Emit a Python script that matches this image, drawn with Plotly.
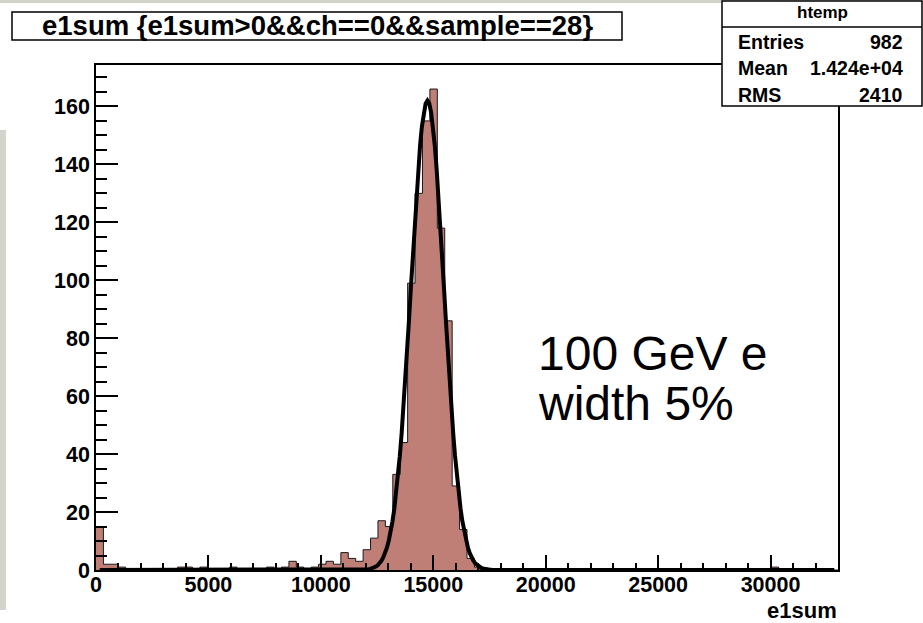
import numpy as np
import plotly.graph_objects as go

# ---------------- data ----------------
bin_width = 330
x_min, x_max = 0, 33000
# 100 bins of e1sum (counts per bin)
counts = [
    15, 2, 2, 1, 0, 0, 0, 0, 0, 0,
    0, 1, 1, 0, 1, 0, 0, 0, 1, 0,
    0, 0, 0, 1, 0, 1, 3, 1, 0, 1,
    2, 3, 2, 6, 4, 3, 7, 11, 17, 15,
    33, 44, 99, 130, 155, 166, 118, 86, 29, 14,
    4, 1, 0, 0, 0, 0, 0, 0, 0, 0,
    0, 0, 0, 0, 0, 0, 0, 0, 0, 0,
    0, 0, 0, 0, 0, 0, 0, 0, 0, 0,
    0, 0, 0, 0, 0, 0, 0, 0, 0, 0,
    0, 1, 0, 0, 0, 0, 0, 0, 0, 0,
]
# gaussian fit parameters
fit_const = 162.0
fit_mean = 14740.0
fit_sigma = 730.0
fit_range = (165, 32835)

x_ticks = [0, 5000, 10000, 15000, 20000, 25000, 30000]
y_ticks = [0, 20, 40, 60, 80, 100, 120, 140, 160]

title_text = "e1sum {e1sum>0&&ch==0&&sample==28}"
stats_name = "htemp"
stats_rows = [("Entries", "982"), ("Mean", "1.424e+04"), ("RMS", "2410")]
note_lines = ["100 GeV e", "width 5%"]
x_title = "e1sum"

# ---------------- geometry ----------------
W, H = 923, 623
L, R, T, B = 96, 85, 65, 53
pw = W - L - R
ph = H - T - B


def px(x):
    return (x - L) / pw


def py(y):
    return (H - B - y) / ph


edges = [x_min + i * bin_width for i in range(len(counts) + 1)]
step_y = counts + [counts[-1]]

fx = np.linspace(fit_range[0], fit_range[1], 400)
fy = fit_const * np.exp(-0.5 * ((fx - fit_mean) / fit_sigma) ** 2)

fig = go.Figure()
fig.add_trace(go.Scatter(
    x=edges, y=step_y, mode="lines", line_shape="hv",
    fill="tozeroy", fillcolor="#bf7e76",
    line=dict(color="#1a1a1a", width=1), hoverinfo="skip", showlegend=False,
))
fig.add_trace(go.Scatter(
    x=fx, y=fy, mode="lines", line=dict(color="black", width=4),
    hoverinfo="skip", showlegend=False,
))

tickfont = dict(family="Liberation Sans", size=21.5, color="black", weight="bold")

fig.update_layout(
    width=W, height=H,
    margin=dict(l=L, r=R, t=T, b=B, pad=0),
    paper_bgcolor="white", plot_bgcolor="white",
    xaxis=dict(
        range=[x_min, x_max], tickvals=x_ticks, ticktext=[str(v) for v in x_ticks],
        ticks="inside", ticklen=15, tickwidth=1.5, tickcolor="black",
        showline=True, linecolor="black", linewidth=1.5, mirror=True,
        showgrid=False, zeroline=False, tickfont=tickfont, ticklabelstandoff=-6,
        minor=dict(dtick=1000, ticks="inside", ticklen=7, tickwidth=1.5,
                   tickcolor="black", showgrid=False),
    ),
    yaxis=dict(
        range=[0, 174.3], tickvals=y_ticks, ticktext=[str(v) for v in y_ticks],
        ticks="inside", ticklen=22, tickwidth=1.5, tickcolor="black",
        showline=True, linecolor="black", linewidth=1.5, mirror=True,
        showgrid=False, zeroline=False, tickfont=tickfont,
        minor=dict(dtick=5, ticks="inside", ticklen=11, tickwidth=1.5,
                   tickcolor="black", showgrid=False),
    ),
)

shapes = []
# slide decorations (grey strips)
shapes.append(dict(type="rect", xref="paper", yref="paper",
                   x0=px(0), x1=px(923), y0=py(0), y1=py(3),
                   fillcolor="#d4d4cc", line=dict(width=0), layer="below"))
shapes.append(dict(type="rect", xref="paper", yref="paper",
                   x0=px(0), x1=px(6), y0=py(130), y1=py(610),
                   fillcolor="#d4d4cc", line=dict(width=0), layer="below"))
# title box
shapes.append(dict(type="rect", xref="paper", yref="paper",
                   x0=px(12), x1=px(622), y0=py(12), y1=py(40),
                   fillcolor="white", line=dict(color="black", width=1.5), layer="above"))
# stats box
shapes.append(dict(type="rect", xref="paper", yref="paper",
                   x0=px(722), x1=px(922), y0=py(1), y1=py(106),
                   fillcolor="white", line=dict(color="black", width=1.5), layer="above"))
shapes.append(dict(type="line", xref="paper", yref="paper",
                   x0=px(722), x1=px(922), y0=py(27), y1=py(27),
                   line=dict(color="black", width=1.5), layer="above"))
fig.update_layout(shapes=shapes)

ann = []
ann.append(dict(text=title_text, xref="paper", yref="paper", x=px(317), y=py(26),
                xanchor="center", yanchor="middle", showarrow=False,
                font=dict(family="Liberation Sans", size=27.5, color="black", weight="bold")))
ann.append(dict(text=stats_name, xref="paper", yref="paper", x=px(822), y=py(13),
                xanchor="center", yanchor="middle", showarrow=False,
                font=dict(family="Liberation Sans", size=17, color="black", weight="bold")))
row_y = [42, 68, 95]
for (lab, val), yy in zip(stats_rows, row_y):
    ann.append(dict(text=lab, xref="paper", yref="paper", x=px(736), y=py(yy),
                    xanchor="left", yanchor="middle", showarrow=False,
                    font=dict(family="Liberation Sans", size=19.5, color="black", weight="bold")))
    ann.append(dict(text=val, xref="paper", yref="paper", x=px(905), y=py(yy),
                    xanchor="right", yanchor="middle", showarrow=False,
                    font=dict(family="Liberation Sans", size=19.5, color="black", weight="bold")))
for line, yy in zip(note_lines, [353, 404]):
    ann.append(dict(text=line, xref="paper", yref="paper", x=px(536), y=py(yy),
                    xanchor="left", yanchor="middle", showarrow=False,
                    font=dict(family="Liberation Sans", size=48, color="black")))
ann.append(dict(text=x_title, xref="paper", yref="paper", x=px(839), y=py(610),
                xanchor="right", yanchor="middle", showarrow=False,
                font=dict(family="Liberation Sans", size=22, color="black", weight="bold")))
fig.update_layout(annotations=ann)

fig.write_html("out.html")
